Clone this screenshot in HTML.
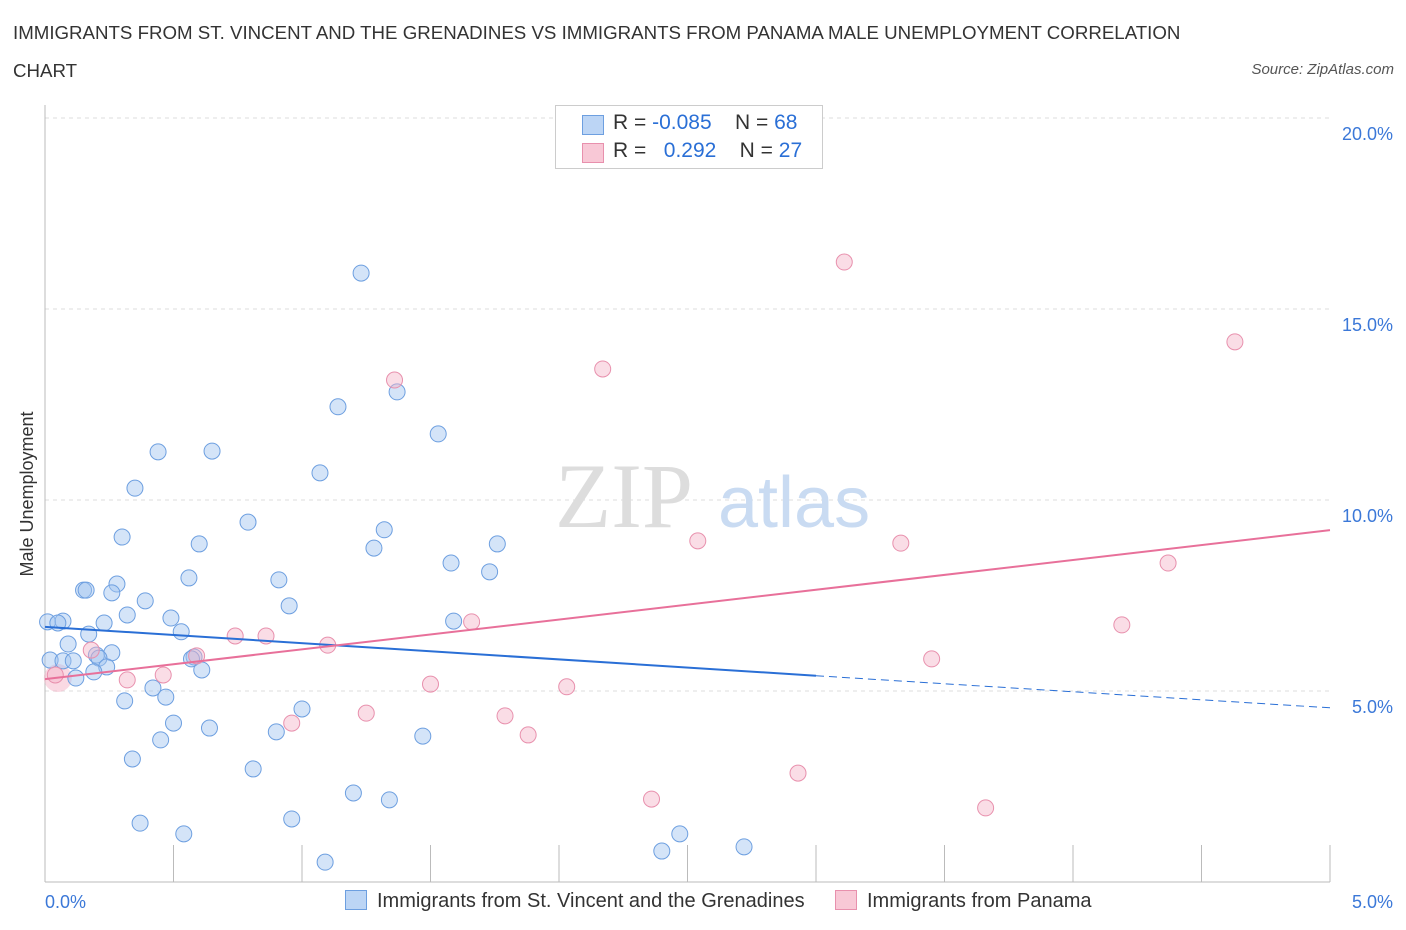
<!DOCTYPE html>
<html><head><meta charset="utf-8">
<style>
body{margin:0;background:#fff;font-family:"Liberation Sans",sans-serif;}
#wrap{position:relative;width:1406px;height:930px;overflow:hidden;}
.t{position:absolute;white-space:nowrap;}
</style></head>
<body>
<div id="wrap">
<div class="t" style="left:13px;top:14px;font-size:18.7px;color:#333;line-height:38px;">IMMIGRANTS FROM ST. VINCENT AND THE GRENADINES VS IMMIGRANTS FROM PANAMA MALE UNEMPLOYMENT CORRELATION<br>CHART</div>
<div class="t" style="right:12px;top:61px;font-size:15px;font-style:italic;color:#555;">Source: ZipAtlas.com</div>
<svg id="svg" width="1406" height="930" style="position:absolute;left:0;top:0"></svg>
</div>
<script>
const xTicks=[0,5];
const yTicks=[5,10,15,20];
const blueX=[1.23,1.14,1.37,1.53,1.07,.44,.65,.35,.79,1.32,1.28,.30,.60,1.76,1.58,1.73,.56,.91,.15,.16,.28,.26,.39,.95,.32,.49,1.59,.01,.07,.05,.23,.53,.17,.09,.26,.20,.21,.58,.57,.02,.07,.11,.24,.19,.61,.12,.42,.47,.31,1.00,.50,.64,.45,.90,1.47,.34,.81,1.20,1.34,.37,.96,.54,1.09,2.47,2.40,2.72];
const blueY=[15.94,12.44,12.83,11.73,10.71,11.26,11.28,10.31,9.42,9.22,8.74,9.03,8.85,8.85,8.35,8.12,7.96,7.91,7.64,7.64,7.80,7.57,7.36,7.23,6.99,6.91,6.83,6.81,6.83,6.78,6.78,6.55,6.49,6.23,6.00,5.94,5.86,5.89,5.84,5.81,5.79,5.79,5.63,5.50,5.55,5.34,5.08,4.84,4.74,4.53,4.16,4.03,3.72,3.93,3.82,3.22,2.96,2.33,2.15,1.54,1.65,1.26,0.52,1.26,0.81,0.92];
const pinkX=[3.11,4.63,2.17,1.36,2.54,3.33,4.37,1.66,4.19,.74,.86,1.10,.59,.18,3.45,.46,.32,1.50,2.03,.04,1.25,1.79,.96,1.88,2.93,2.36,3.66];
const pinkY=[16.23,14.14,13.43,13.14,8.93,8.87,8.35,6.81,6.73,6.44,6.44,6.20,5.92,6.07,5.84,5.42,5.29,5.18,5.11,5.42,4.42,4.35,4.16,3.85,2.85,2.17,1.94];
const blueTrend=[6.68,5.40,4.56]; // at x=0, 3, 5
const pinkTrend=[5.31,9.21]; // at x=0, 5
const X=v=>45+v/5*1285, Y=v=>882-v/5*191;
const svg=document.getElementById('svg');const NS='http://www.w3.org/2000/svg';
function mk(tag,attrs,parent){const e=document.createElementNS(NS,tag);for(const k in attrs)e.setAttribute(k,attrs[k]);(parent||svg).appendChild(e);return e;}
yTicks.forEach(v=>{
 const g=mk('line',{x1:45,x2:1330,y1:Y(v),y2:Y(v),stroke:'#ddd','stroke-dasharray':'4,4'});
 
 
 const t=mk('text',{x:1393,y:Y(v)+22,'text-anchor':'end','font-size':18,fill:'#3b78d8'});t.textContent=v.toFixed(1)+'%';
 
 
});
const ax=mk('line',{x1:45,x2:45,y1:105,y2:882,stroke:'#bbb'});


const bx=mk('line',{x1:45,x2:1330,y1:882,y2:882,stroke:'#bbb'});


for(let i=0;i<=10;i++){const tk=mk('line',{x1:X(i*0.5),x2:X(i*0.5),y1:845,y2:882,stroke:'#bbb'});
 
 }
xTicks.forEach((v,i)=>{const t=mk('text',{x:i?1393:45,y:908,'text-anchor':i?'end':'start','font-size':18,fill:'#3b78d8'});t.textContent=v.toFixed(1)+'%';
 
 });
const yl=mk('text',{transform:'translate(33,494) rotate(-90)','text-anchor':'middle','font-size':18,fill:'#333'});yl.textContent='Male Unemployment';


const wm=mk('text',{x:555,y:527,'font-size':92,fill:'#ddd','font-family':'Liberation Serif'});wm.textContent='ZIP';


const wm2=mk('text',{x:718,y:527,'font-size':72,fill:'#c9dbf2'});wm2.textContent='atlas';


mk('circle',{cx:X(.05),cy:Y(5.34),r:14,fill:'rgba(245,180,200,0.5)',stroke:'none'});
blueX.forEach((v,i)=>{const c=mk('circle',{cx:X(v),cy:Y(blueY[i]),r:8,fill:'rgba(160,195,240,0.45)',stroke:'#6d9fe0','stroke-width':1});
 
 });
pinkX.forEach((v,i)=>{const c=mk('circle',{cx:X(v),cy:Y(pinkY[i]),r:8,fill:'rgba(245,180,200,0.45)',stroke:'#e890ad','stroke-width':1});
 
 });
const l1=mk('line',{x1:X(0),y1:Y(blueTrend[0]),x2:X(3),y2:Y(blueTrend[1]),stroke:'#2a6fd6','stroke-width':2});


const l2=mk('line',{x1:X(3),y1:Y(blueTrend[1]),x2:X(5),y2:Y(blueTrend[2]),stroke:'#2a6fd6','stroke-width':1,'stroke-dasharray':'8,5'});


const l3=mk('line',{x1:X(0),y1:Y(pinkTrend[0]),x2:X(5),y2:Y(pinkTrend[1]),stroke:'#e8709a','stroke-width':2});


</script>
<div class="t" style="left:555px;top:105px;width:266px;height:62px;border:1px solid #ccc;background:#fff;font-size:21px;color:#333;">
 <div style="position:absolute;left:26px;top:9px;width:20px;height:18px;background:#bcd5f5;border:1px solid #6d9fe0"></div>
 <div style="position:absolute;left:57px;top:5px;">R = <span style="color:#2a6fd6">-0.085</span>&nbsp;&nbsp;&nbsp; N = <span style="color:#2a6fd6">68</span></div>
 <div style="position:absolute;left:26px;top:37px;width:20px;height:18px;background:#f8c8d6;border:1px solid #e890ad"></div>
 <div style="position:absolute;left:57px;top:33px;">R = &nbsp;&nbsp;<span style="color:#2a6fd6">0.292</span>&nbsp;&nbsp;&nbsp; N = <span style="color:#2a6fd6">27</span></div>
</div>
<div class="t" style="left:345px;top:890px;font-size:20px;color:#333;"><span style="display:inline-block;width:20px;height:18px;background:#bcd5f5;border:1px solid #6d9fe0;vertical-align:-3px;margin-right:10px"></span>Immigrants from St. Vincent and the Grenadines</div>
<div class="t" style="left:835px;top:890px;font-size:20px;color:#333;"><span style="display:inline-block;width:20px;height:18px;background:#f8c8d6;border:1px solid #e890ad;vertical-align:-3px;margin-right:10px"></span>Immigrants from Panama</div>
</body></html>
